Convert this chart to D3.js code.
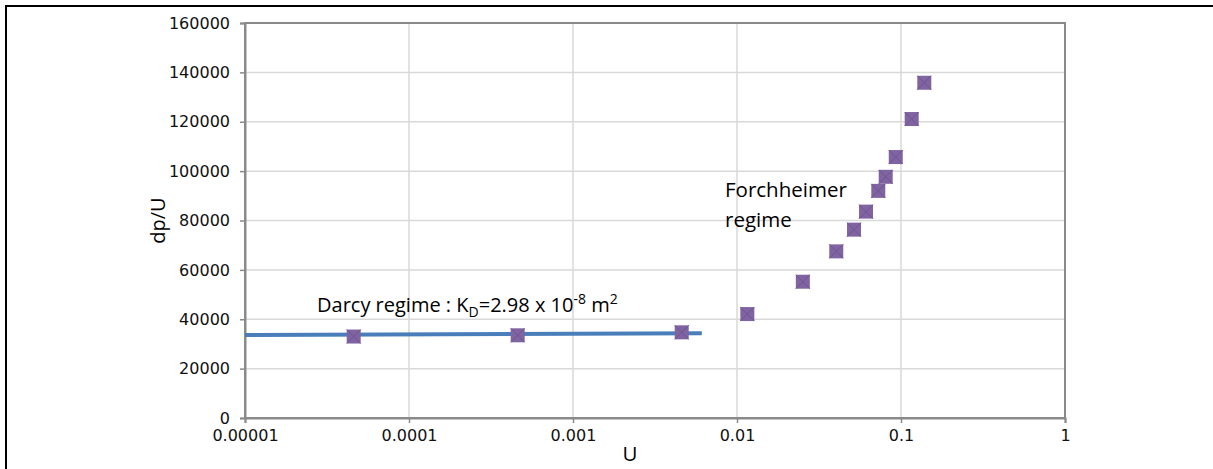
<!DOCTYPE html>
<html>
<head>
<meta charset="utf-8">
<script src="https://cdn.jsdelivr.net/npm/d3@7"></script>
<style>
  body { margin: 0; background: #fff; }
  svg { display: block; }
</style>
</head>
<body>
<div id="chart"></div>
<script>
// data
const darcyU = [0.000046, 0.00046, 0.0046];
const darcyDp = [33000, 33500, 34700];

const forchU = [0.01156, 0.0252, 0.0403, 0.0517, 0.0612, 0.0727, 0.0807, 0.0929, 0.1162, 0.1387];
const forchDp = [42100, 55200, 67500, 76300, 83600, 92000, 97700, 105700, 121100, 135800];

// darcy fit line (two ends)
const fitU = [0.00001, 0.0061];
const fitDp = [33650, 34350];

const xTicks = [0.00001, 0.0001, 0.001, 0.01, 0.1, 1];
const xTickLabels = ["0.00001", "0.0001", "0.001", "0.01", "0.1", "1"];
const yTicks = [0, 20000, 40000, 60000, 80000, 100000, 120000, 140000, 160000];

const W = 1213, H = 469;
const margin = { top: 23, right: 148, bottom: 51, left: 245 };

const svg = d3.select('#chart').append('svg')
  .attr('width', W)
  .attr('height', H);

// outer frame (only top and left visible)
svg.append('rect')
  .attr('x', 6).attr('y', 6)
  .attr('width', W + 20).attr('height', H + 20)
  .attr('fill', 'none')
  .attr('stroke', '#000')
  .attr('stroke-width', 2);

const x = d3.scaleLog().domain([1e-5, 1]).range([margin.left, W - margin.right]);
const y = d3.scaleLinear().domain([0, 160000]).range([H - margin.bottom, margin.top]);

// gridlines
const grid = svg.append('g');
grid.selectAll('.gy')
  .data(yTicks.slice(1, -1))
  .enter().append('line')
  .attr('x1', x.range()[0]).attr('x2', x.range()[1])
  .attr('y1', d => y(d)).attr('y2', d => y(d))
  .attr('stroke', '#d9d9d9').attr('stroke-width', 1.5);
grid.selectAll('.gx')
  .data(xTicks.slice(1, -1))
  .enter().append('line')
  .attr('x1', d => x(d)).attr('x2', d => x(d))
  .attr('y1', y.range()[0]).attr('y2', y.range()[1])
  .attr('stroke', '#d9d9d9').attr('stroke-width', 1.5);

// plot border
svg.append('rect')
  .attr('x', x.range()[0]).attr('y', y.range()[1])
  .attr('width', x.range()[1] - x.range()[0])
  .attr('height', y.range()[0] - y.range()[1])
  .attr('fill', 'none')
  .attr('stroke', '#8a8a8a')
  .attr('stroke-width', 2);

// axes
const xAxis = d3.axisBottom(x)
  .tickValues(xTicks)
  .tickFormat((d, i) => xTickLabels[i])
  .tickSize(5)
  .tickPadding(7);
const yAxis = d3.axisLeft(y)
  .tickValues(yTicks)
  .tickFormat(d3.format('d'))
  .tickSize(5)
  .tickPadding(10);

const gx = svg.append('g')
  .attr('transform', `translate(0,${y.range()[0]})`)
  .call(xAxis);
const gy = svg.append('g')
  .attr('transform', `translate(${x.range()[0]},0)`)
  .call(yAxis);

[gx, gy].forEach(g => {
  g.select('.domain').attr('stroke', '#8a8a8a').attr('stroke-width', 2);
  g.selectAll('.tick line').attr('stroke', '#8a8a8a').attr('stroke-width', 1.5);
  g.selectAll('.tick text')
    .attr('fill', '#111')
    .style('font-family', '"DejaVu Sans", Verdana, sans-serif')
    .style('font-size', '16px');
});

// darcy fit line
const line = d3.line().x(d => x(d[0])).y(d => y(d[1]));
svg.append('path')
  .datum(fitU.map((u, i) => [u, fitDp[i]]))
  .attr('d', line)
  .attr('fill', 'none')
  .attr('stroke', '#4a7ebb')
  .attr('stroke-width', 4);

// markers
const pts = darcyU.map((u, i) => [u, darcyDp[i]])
  .concat(forchU.map((u, i) => [u, forchDp[i]]));
const s = 7;
const mk = svg.append('g').selectAll('g')
  .data(pts)
  .enter().append('g')
  .attr('transform', d => `translate(${x(d[0])},${y(d[1])})`);
mk.append('rect')
  .attr('x', -s).attr('y', -s)
  .attr('width', 2 * s).attr('height', 2 * s)
  .attr('fill', '#8064a2');
mk.append('path')
  .attr('d', `M${-s},${-s}L${s},${s}M${s},${-s}L${-s},${s}`)
  .attr('stroke', '#6d5490')
  .attr('stroke-width', 1);

// annotations
const textFont = '"Open Sans", sans-serif';
const darcy = svg.append('text')
  .attr('x', 317).attr('y', 312)
  .style('font-family', textFont)
  .style('font-size', '20px')
  .attr('fill', '#000');
darcy.append('tspan').text('Darcy regime : K');
darcy.append('tspan').attr('dy', 5).style('font-size', '14px').text('D');
darcy.append('tspan').attr('dy', -5).text('=2.98 x 10');
darcy.append('tspan').attr('dy', -8).style('font-size', '14px').text('-8');
darcy.append('tspan').attr('dy', 8).text(' m');
darcy.append('tspan').attr('dy', -8).style('font-size', '14px').text('2');

const forch = svg.append('text')
  .attr('x', 725).attr('y', 197)
  .style('font-family', textFont)
  .style('font-size', '20.5px')
  .attr('fill', '#000');
forch.append('tspan').attr('x', 725).text('Forchheimer');
forch.append('tspan').attr('x', 725).attr('dy', 30).text('regime');

// axis titles
svg.append('text')
  .attr('transform', `translate(165,${(y.range()[0] + y.range()[1]) / 2}) rotate(-90)`)
  .attr('text-anchor', 'middle')
  .style('font-family', textFont)
  .style('font-size', '20px')
  .text('dp/U');

svg.append('text')
  .attr('x', 630).attr('y', 461)
  .attr('text-anchor', 'middle')
  .style('font-family', textFont)
  .style('font-size', '20.5px')
  .text('U');
</script>
</body>
</html>
